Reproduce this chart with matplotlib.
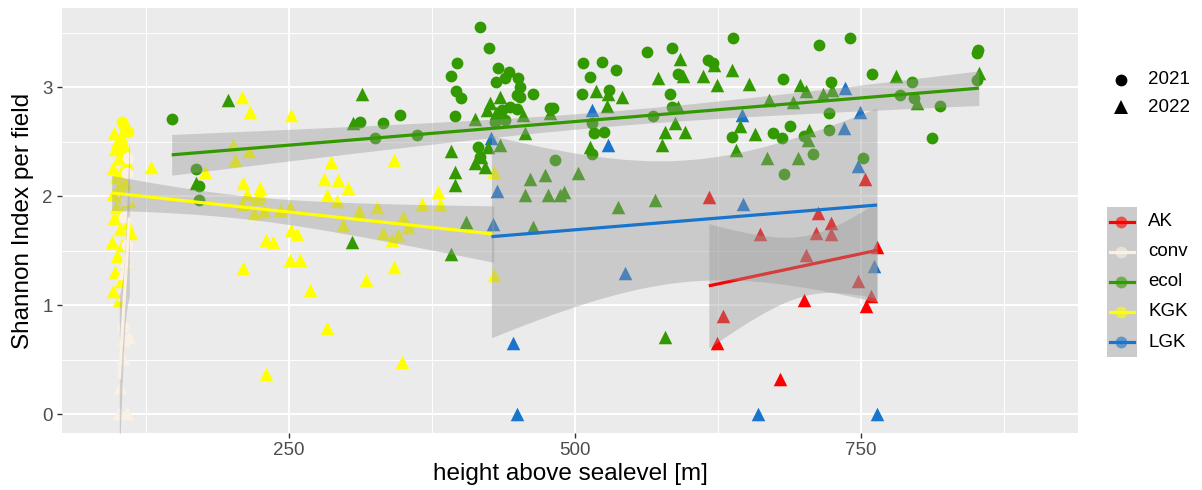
import numpy as np
import matplotlib
matplotlib.use('Agg')
import matplotlib.pyplot as plt
from matplotlib.patches import Rectangle
from matplotlib.lines import Line2D

plt.rcParams['font.family'] = ['Liberation Sans', 'DejaVu Sans']

# ---- data: height above sealevel (x) and Shannon index (y) per group / year
ak_x21, ak_y21 = [], []
ak_x22 = [617, 629.6, 624, 662, 679, 700.4, 702, 712.7, 711, 723.5, 724, 747.7, 753.5, 754, 759, 764]
ak_y22 = [1.99, 0.90, 0.65, 1.65, 0.32, 1.05, 1.46, 1.84, 1.66, 1.75, 1.65, 1.22, 2.16, 0.99, 1.08, 1.53]

conv_x21 = [109, 108.5, 107.5, 106, 108, 104.5, 105.5]
conv_y21 = [2.35, 2.21, 1.96, 1.81, 1.55, 0.80, 0.68]
conv_x22 = [101.7, 108, 102.3, 105, 110.4, 105, 106, 104.5, 107]
conv_y22 = [0.01, 0.01, 0.25, 0.51, 0.71, 0.68, 1.10, 1.29, 1.40]

ecol_x21 = [147.5, 169, 171, 171, 312, 332.5, 347, 325, 361.6,
            392, 396.6, 396, 400, 395, 417, 425,
            433, 442, 431, 439, 450, 452, 449, 452, 463.6, 443, 436, 449, 478, 439, 430,
            415.5, 417, 482.5,
            507, 524, 536, 513, 506, 530, 480.5, 517, 525, 514.6, 514.6, 562.6, 584.5, 590,
            583, 584.5, 616.5, 621, 568, 637,
            638.4, 713.6, 740.4, 682, 724, 760, 722, 722, 688, 673, 680.6, 700, 708, 683, 751.5,
            852.6, 851, 851, 795, 784, 796, 819, 812]
ecol_y21 = [2.71, 2.25, 2.09, 1.96, 2.68, 2.67, 2.74, 2.53, 2.56,
            3.10, 3.22, 2.96, 2.90, 2.73, 3.55, 3.36,
            3.17, 3.14, 3.05, 3.08, 3.08, 3.00, 2.93, 2.91, 2.94, 2.82, 2.79, 2.80, 2.81, 2.70, 2.68,
            2.45, 2.36, 2.33,
            3.22, 3.23, 3.16, 3.09, 2.94, 2.97, 2.81, 2.58, 2.59, 2.39, 2.67, 3.32, 3.36, 3.12,
            2.94, 2.82, 3.25, 3.22, 2.73, 2.54,
            3.45, 3.39, 3.45, 3.07, 3.05, 3.12, 2.76, 2.61, 2.64, 2.58, 2.53, 2.55, 2.39, 2.20, 2.35,
            3.34, 3.31, 3.06, 3.05, 2.93, 2.90, 2.83, 2.53]
ecol_x22 = [169, 197, 313.5, 306, 305, 392, 395, 395, 392,
            426, 434.5, 423, 412.6, 431, 455, 456, 478,
            412.6, 421, 418, 424, 434.5,
            460.7, 474, 456, 476.6, 487, 405, 463.6,
            503, 490, 538, 570, 579,
            518, 529, 541, 527.6, 513, 573, 592, 594.6, 611.6, 624, 590, 587, 578.7, 576, 596,
            621.5, 637.5, 652, 697, 702, 717, 725, 670, 691, 644, 657, 640.7, 705, 704, 667.5, 694.6,
            780.6, 853, 799]
ecol_y22 = [2.12, 2.88, 2.94, 2.67, 1.58, 2.41, 2.22, 2.10, 1.47,
            2.85, 2.91, 2.79, 2.71, 2.76, 2.74, 2.58, 2.76,
            2.30, 2.27, 2.36, 2.45, 2.47,
            2.16, 2.19, 2.01, 2.01, 2.01, 1.76, 1.72,
            2.21, 2.04, 1.90, 1.96, 0.71,
            2.96, 2.94, 2.91, 2.83, 2.45, 3.08, 3.26, 3.10, 3.10, 3.02, 2.82, 2.67, 2.59, 2.47, 2.59,
            3.20, 3.16, 3.03, 3.02, 2.96, 2.94, 2.97, 2.88, 2.86, 2.64, 2.57, 2.42, 2.61, 2.51, 2.35, 2.35,
            3.10, 3.13, 2.85]

kgk_x21 = [104, 106, 109.5]
kgk_y21 = [2.68, 2.64, 2.59]
kgk_x22 = [97, 103, 100, 106, 98, 104, 101, 108, 96, 103, 99, 107, 101, 96, 105, 110, 99, 104, 97, 108,
           102, 112, 95, 104, 100, 107, 98, 103, 96, 101,
           129, 177, 201, 203, 209, 216, 215, 210, 225, 209, 222, 219, 228, 236, 230, 210, 230, 213, 225,
           252, 287, 281, 293, 302, 283, 292, 342, 366, 327, 311, 350, 242, 251, 297, 332, 345, 340, 354,
           252, 257, 251, 260, 268, 317, 342, 283, 349, 380, 382, 429, 429]
kgk_y22 = [2.58, 2.55, 2.50, 2.47, 2.43, 2.40, 2.35, 2.30, 2.26, 2.22, 2.17, 2.12, 2.08, 2.02, 2.00, 1.95,
           1.90, 1.85, 1.80, 1.75, 1.70, 1.66, 1.58, 1.55, 1.45, 1.40, 1.30, 1.22, 1.13, 1.05,
           2.27, 2.22, 2.47, 2.33, 2.91, 2.77, 2.41, 2.12, 2.07, 1.93, 1.98, 1.84, 1.86, 1.58, 1.60, 1.34,
           0.37, 2.02, 2.01,
           2.74, 2.31, 2.16, 2.15, 2.07, 2.01, 1.95, 2.33, 1.93, 1.90, 1.86, 1.81, 1.87, 1.90, 1.73, 1.66,
           1.64, 1.60, 1.72, 1.69, 1.65, 1.41, 1.41, 1.14, 1.23, 1.35, 0.79, 0.48, 2.04, 1.93, 2.22, 1.28]

lgk_x21, lgk_y21 = [], []
lgk_x22 = [427, 432, 428.7, 445.5, 449.6, 514.6, 529, 543.7, 645.7, 647, 660, 736, 749, 735, 747.7, 761, 764]
lgk_y22 = [2.53, 2.05, 1.74, 0.65, 0.0, 2.79, 2.47, 1.29, 2.74, 1.93, 0.0, 2.99, 2.77, 2.62, 2.28, 1.36, 0.0]

groups = ['AK', 'conv', 'ecol', 'KGK', 'LGK']
colors = {'AK': '#FF0000', 'conv': '#FAF0E6', 'ecol': '#339900', 'KGK': '#FFFF00', 'LGK': '#1874CD'}
data = {
    'AK': (ak_x21, ak_y21, ak_x22, ak_y22),
    'conv': (conv_x21, conv_y21, conv_x22, conv_y22),
    'ecol': (ecol_x21, ecol_y21, ecol_x22, ecol_y22),
    'KGK': (kgk_x21, kgk_y21, kgk_x22, kgk_y22),
    'LGK': (lgk_x21, lgk_y21, lgk_x22, lgk_y22),
}


def t975(df):
    z = 1.959964
    return (z + (z**3 + z) / (4 * df) + (5 * z**5 + 16 * z**3 + 3 * z) / (96 * df**2)
            + (3 * z**7 + 19 * z**5 + 17 * z**3 - 15 * z) / (384 * df**3))


def lm_band(x, y, n=100):
    x = np.asarray(x, float)
    y = np.asarray(y, float)
    b, a = np.polyfit(x, y, 1)
    xs = np.linspace(x.min(), x.max(), n)
    yh = a + b * xs
    res = y - (a + b * x)
    s = np.sqrt(np.sum(res**2) / (len(x) - 2))
    se = s * np.sqrt(1 / len(x) + (xs - x.mean())**2 / np.sum((x - x.mean())**2))
    t = t975(len(x) - 2)
    return xs, yh, yh - t * se, yh + t * se


fig = plt.figure(figsize=(12.02, 4.9), dpi=100)
W, H = 1202, 490
ax = fig.add_axes([62 / W, 1 - 433 / H, (1078 - 62) / W, (433 - 8) / H])
ax.set_facecolor('#EBEBEB')
for s in ax.spines.values():
    s.set_visible(False)

# points
for g in ['KGK', 'conv', 'LGK', 'ecol', 'AK']:
    x21, y21, x22, y22 = data[g]
    if x21:
        ax.scatter(x21, y21, s=72, marker='o', color=colors[g], linewidths=0, zorder=2)
    ax.scatter(x22, y22, s=95, marker='^', color=colors[g], linewidths=0, zorder=2)

# linear fits with 95% confidence band
z = 3
for g in groups:
    x21, y21, x22, y22 = data[g]
    xs, yh, lo, hi = lm_band(list(x21) + list(x22), list(y21) + list(y22))
    ax.fill_between(xs, lo, hi, color='#999999', alpha=0.4, linewidth=0, zorder=z)
    ax.plot(xs, yh, color=colors[g], lw=2.3, zorder=z + 1, solid_capstyle='butt')
    z += 2

ax.set_xlim(51.6, 939.7)
ax.set_ylim(-0.174, 3.725)
ax.set_xticks([250, 500, 750])
ax.set_yticks([0, 1, 2, 3])
ax.set_xticks([125, 375, 625, 875], minor=True)
ax.set_yticks([0.5, 1.5, 2.5, 3.5], minor=True)
ax.grid(which='major', color='white', lw=1.4, zorder=0)
ax.grid(which='minor', color='white', lw=0.7, zorder=0)
ax.set_axisbelow(True)
ax.tick_params(which='major', length=3.5, width=1, color='#333333', labelcolor='#4D4D4D',
               labelsize=13.5, pad=3)
ax.tick_params(which='minor', length=0)
ax.set_xlabel('height above sealevel [m]', fontsize=17.5, labelpad=3)
ax.set_ylabel('Shannon Index per field', fontsize=17.5, labelpad=6)


def fx(px):
    return px / W


def fy(py):
    return 1 - py / H


# year legend
for py, mk, lab, ms in [(80, 'o', '2021', 8.5), (107, '^', '2022', 9.8)]:
    fig.add_artist(Line2D([fx(1121)], [fy(py)], marker=mk, color='black', markersize=ms,
                          markeredgewidth=0, linestyle='none'))
    fig.text(fx(1148), fy(py), lab, fontsize=13.5, va='center', ha='left', color='black')

# colour legend
fig.add_artist(Rectangle((fx(1107), fy(357)), (1137 - 1107) / W, (357 - 207) / H,
                         facecolor='#CBCBCB', edgecolor='none'))
for i, g in enumerate(groups):
    py = 222 + 30 * i
    fig.add_artist(Line2D([fx(1110), fx(1134)], [fy(py), fy(py)], color=colors[g], lw=2.3))
    fig.add_artist(Line2D([fx(1121)], [fy(py)], marker='o', color=colors[g], markersize=8.5,
                          markeredgewidth=0, linestyle='none', alpha=0.6))
    fig.text(fx(1148), fy(py), g, fontsize=13.5, va='center', ha='left', color='black')

fig.savefig('out.png', dpi=100)
